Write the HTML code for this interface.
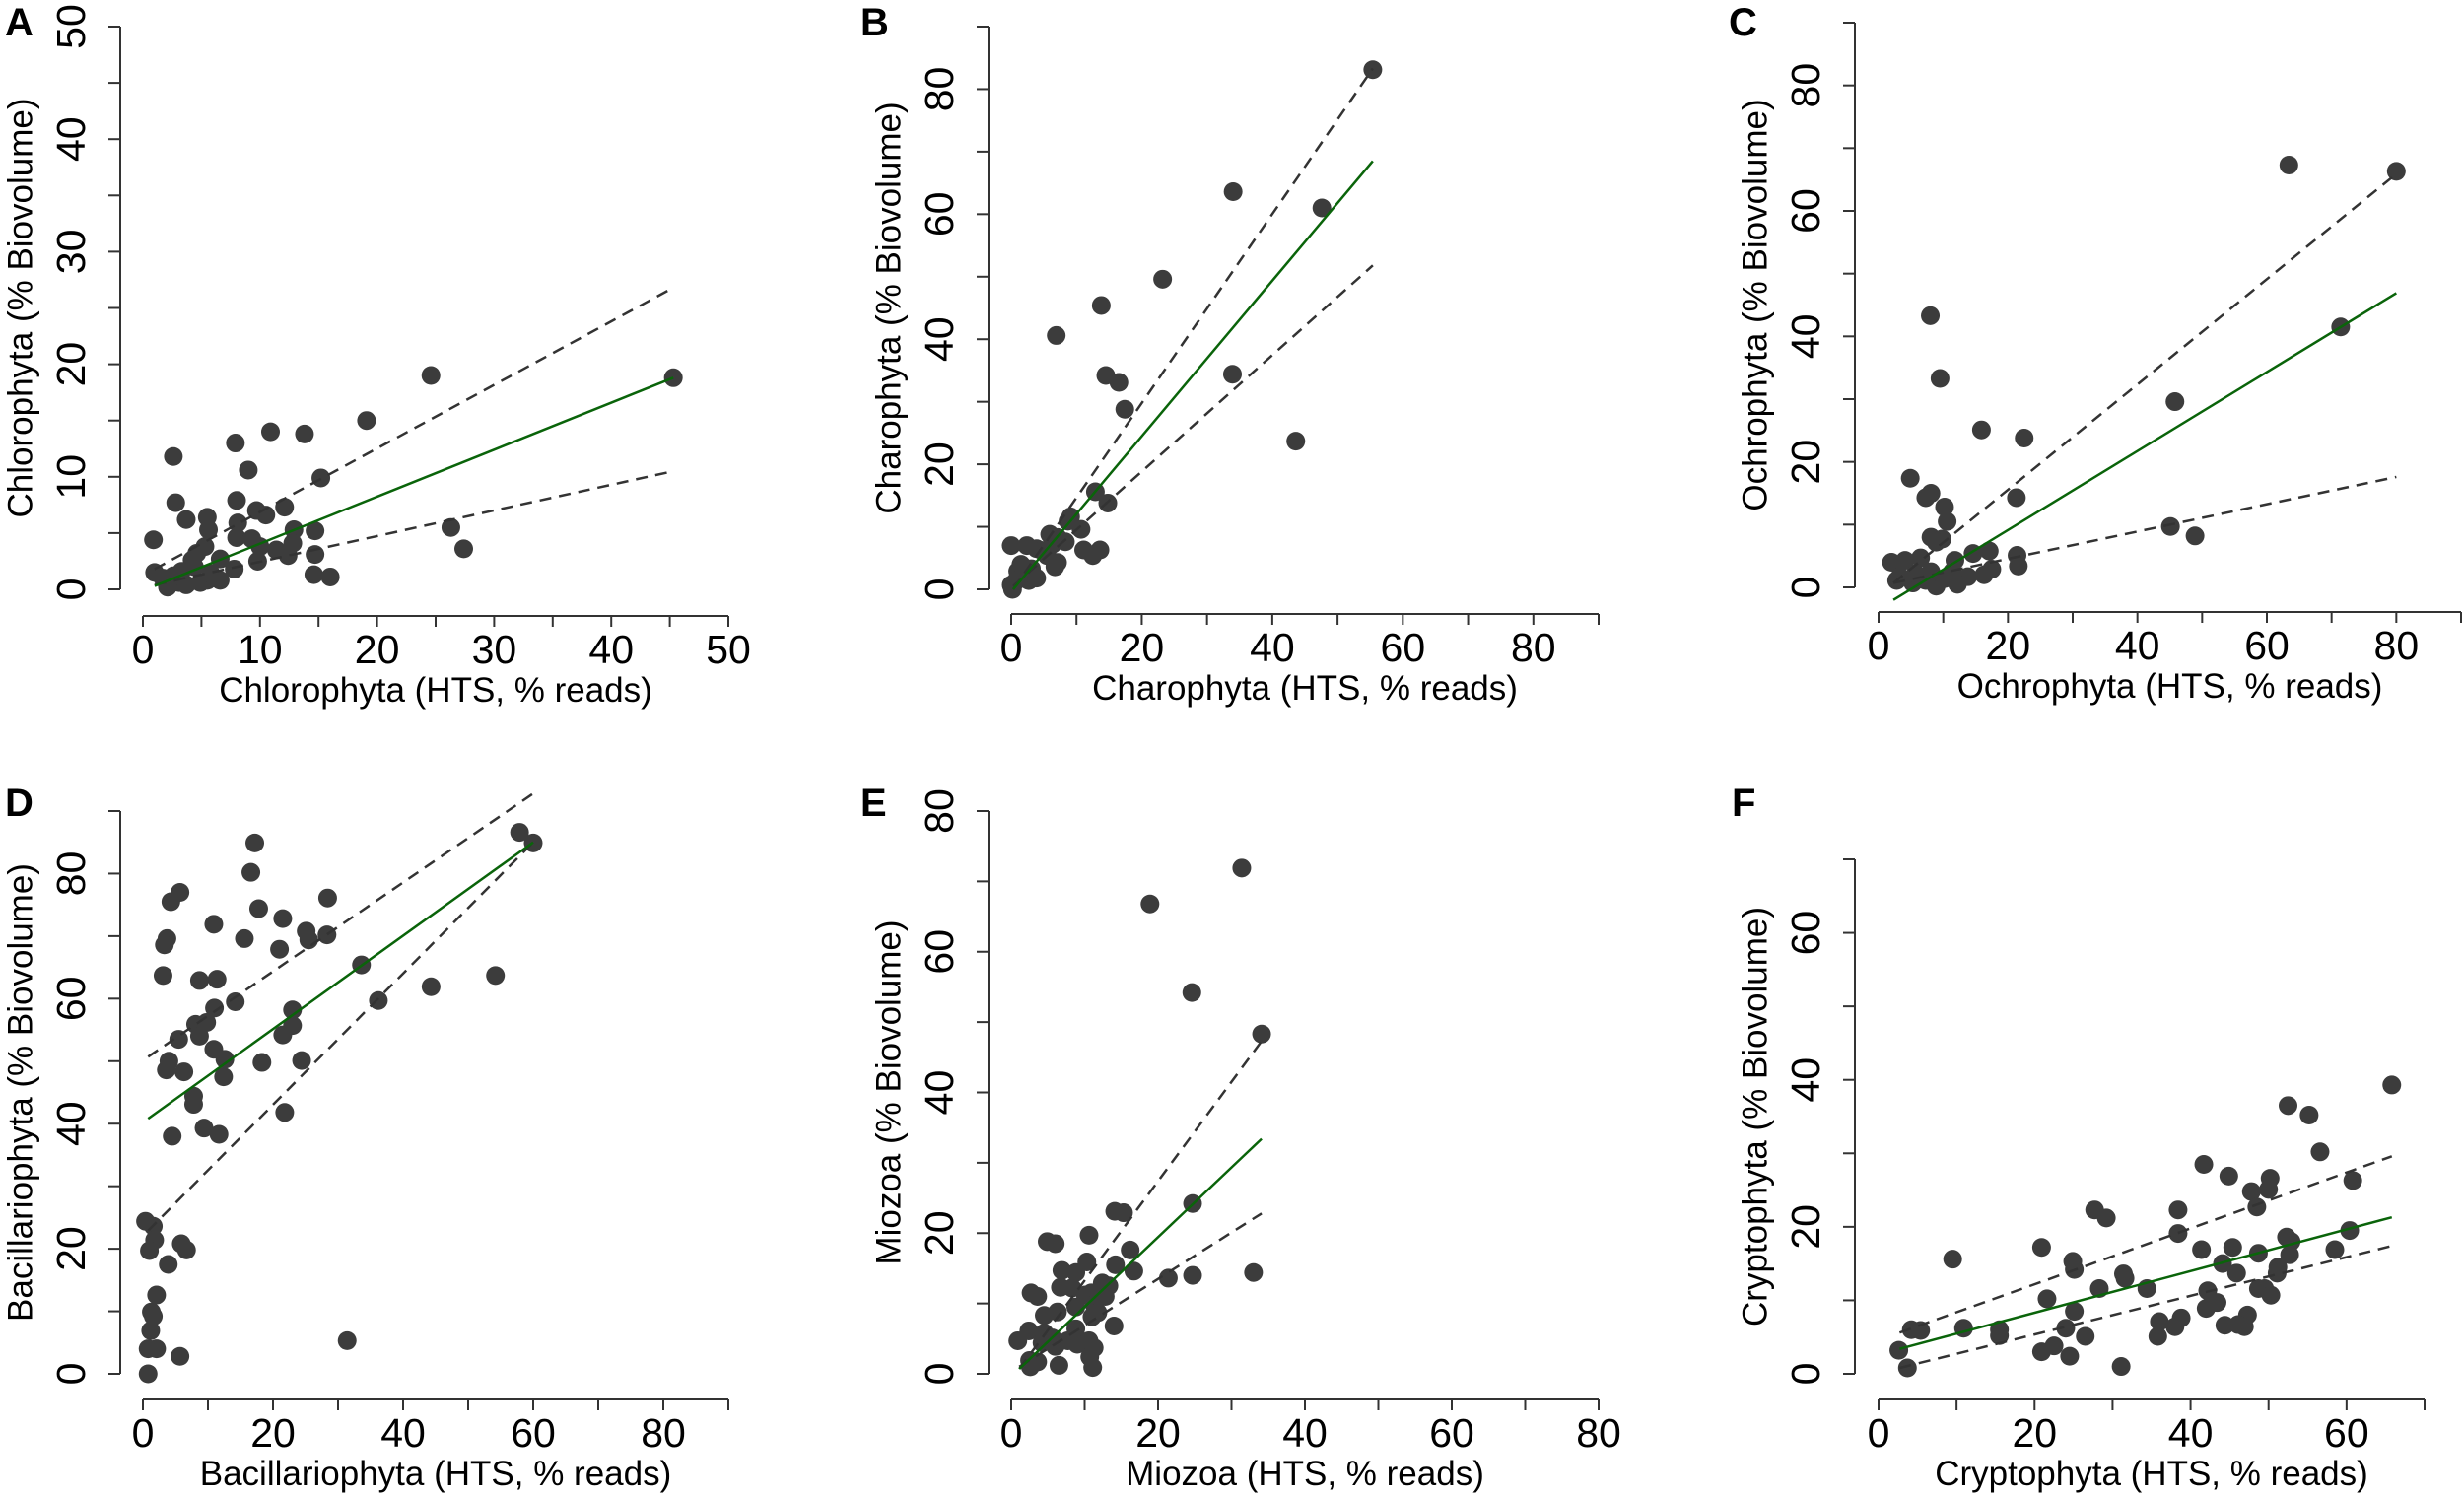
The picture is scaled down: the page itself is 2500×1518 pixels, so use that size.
<!DOCTYPE html>
<html><head><meta charset="utf-8"><style>
html,body{margin:0;padding:0;background:#fff;}
svg{display:block;font-family:"Liberation Sans",Arial,sans-serif;}
</style></head><body>
<svg id="fig" width="2500" height="1518" viewBox="0 0 2500 1518" xmlns="http://www.w3.org/2000/svg"></svg>
<script>
// Panel A: Chlorophyta
const aX=[0.9,1.0,2.6,2.8,3.7,5.5,5.6,7.9,9.0,10.9,13.8,19.1,24.6,45.3,15.2,12.1,9.7,10.5,8.0,8.1,8.0,9.3,10.0,9.8,11.4,12.4,12.9,12.8,14.7,14.7,14.6,16.0,26.3,27.4,7.8,6.6,6.6,5.3,4.6,4.2,4.4,5.5,4.9,3.7,3.1,2.6,2.1,1.7,3.3,5.8];
const aY=[4.4,1.5,11.8,7.7,6.2,6.4,5.3,13.0,10.6,14.0,13.8,15.0,19.0,18.8,9.9,7.3,7.0,6.6,7.9,5.9,4.6,4.5,3.8,2.5,3.5,3.0,5.3,4.1,5.2,3.1,1.3,1.1,5.5,3.6,1.8,2.7,0.8,3.8,3.2,2.6,2.0,0.8,0.6,0.4,0.6,1.2,0.2,1.0,1.6,1.4];
const aFitX=[1.0,45.3], aFitY=[0.3,18.8], aUpY=[1.8,26.8], aLoY=[0.4,10.5];
// Panel B: Charophyta
const bX=[55.4,34.0,47.6,23.2,13.8,6.9,14.5,16.5,17.4,33.9,43.6,12.9,14.8,9.1,10.7,0,2.4,3.9,5.9,7.1,8.3,11.1,12.5,13.6,7.1,6.7,4.7,5.5,1.5,1.0,2.7,3.9,0.2,0,0.8,1.9,3.1,6.3,8.7];
const bY=[83.1,63.6,61.0,49.6,45.4,40.6,34.2,33.1,28.8,34.4,23.7,15.6,13.8,11.6,9.6,7.0,7.0,6.5,8.8,8.3,7.6,6.3,5.4,6.3,4.3,3.6,6.2,5.4,4.0,2.9,1.4,1.8,0,0.7,1.4,2.5,3.3,7.2,10.9];
const bFitX=[0.3,55.4], bFitY=[0,68.5], bUpY=[0,83.3], bLoY=[0.5,51.8];
// Panel C: Ochrophyta
const cX=[63.4,80.0,71.4,8.0,9.5,15.9,22.5,45.8,4.9,7.3,8.1,10.2,10.6,21.3,8.1,9.8,8.9,45.1,48.9,2.0,4.1,6.5,11.8,14.6,17.1,21.4,21.6,17.5,16.3,13.8,12.2,8.9,7.3,5.3,3.3,2.8,5.7,8.1,10.2,11.4];
const cY=[67.3,66.3,41.5,43.3,33.3,25.1,23.8,29.6,17.4,14.3,15.0,12.8,10.5,14.3,8.0,7.7,7.2,9.7,8.2,4.0,4.3,4.7,4.3,5.4,5.8,5.1,3.4,2.9,2.0,1.7,0.5,0.2,1.1,0.7,1.7,1.1,2.2,2.5,1.4,2.5];
const cFitX=[2.3,80], cFitY=[-2.0,46.9], cUpY=[0.7,65.9], cLoY=[0.7,17.6];
// Panel D: Bacillariophyta
const dX=[57.9,60.0,17.2,16.6,4.3,5.7,28.4,17.8,10.9,21.5,3.7,3.3,15.6,21.0,25.1,25.5,28.3,3.1,8.7,11.4,33.6,54.2,44.3,36.2,14.2,11.0,9.8,8.1,8.7,5.5,23.0,23.0,21.5,10.9,12.6,4.0,3.6,6.3,12.4,18.3,24.4,7.8,7.8,21.8,9.4,4.5,11.7,0.4,1.6,1.8,1.0,5.9,6.7,3.9,2.1,1.3,1.6,1.2,0.8,2.1,5.7,0.8,31.4];
const dY=[86.6,84.9,84.9,80.2,75.5,77.0,76.1,74.4,71.9,72.8,69.6,68.6,69.6,67.9,70.8,69.4,70.2,63.7,62.9,63.1,65.4,63.7,61.9,59.7,59.5,58.5,56.2,55.9,54.0,53.5,58.2,55.7,54.2,51.9,50.3,50.0,48.6,48.3,47.5,49.8,50.1,44.4,43.1,41.8,39.3,38.0,38.3,24.4,23.6,21.4,19.7,20.8,19.8,17.5,12.6,9.9,9.2,6.9,4.0,4.0,2.8,0,5.3];
const dFitX=[0.8,60], dFitY=[40.8,85.0], dUpY=[50.7,92.8], dLoY=[22.9,85.0];
// Panel E: Miozoa
const eX=[31.4,18.9,24.6,34.1,24.7,14.1,15.3,4.9,6.0,10.6,16.2,10.3,14.2,16.7,6.9,8.8,21.4,24.7,33.0,6.7,8.3,12.4,13.3,10.1,10.9,2.7,3.6,12.8,8.8,11.3,6.3,4.5,11.0,11.8,14.0,2.4,0.9,4.5,5.6,8.8,9.0,6.0,4.2,10.6,11.3,10.7,7.7,2.5,3.6,2.6,6.5,11.1];
const eY=[71.9,66.8,54.2,48.3,24.2,23.1,22.9,18.8,18.5,19.7,17.6,15.9,15.5,14.6,14.7,14.4,13.6,14.0,14.4,12.3,12.2,12.9,12.5,11.2,11.5,11.5,11.0,11.0,9.5,9.8,8.8,8.3,8.1,8.7,6.8,6.1,4.7,5.8,5.1,6.4,4.2,3.9,4.4,4.7,3.7,2.4,4.7,1.9,1.7,1.0,1.2,0.9];
const eFitX=[1.1,34.1], eFitY=[0.7,33.4], eUpY=[0.7,47.3], eLoY=[1.0,22.8];
// Panel F: Cryptophyta
const fX=[65.8,52.5,55.2,56.6,41.7,44.9,50.2,60.8,50.0,47.8,48.5,27.7,29.2,38.4,38.4,60.4,52.3,52.9,52.7,48.7,45.4,41.4,58.5,20.9,9.5,24.9,25.1,44.1,51.2,51.1,45.9,31.4,31.6,34.4,28.3,42.2,48.7,49.5,50.3,21.6,43.4,42.0,25.1,47.3,36.0,38.8,38.0,44.4,46.1,46.9,4.2,5.4,10.9,15.5,15.5,24.0,26.5,35.8,20.9,22.5,24.5,2.6,3.7,31.1];
const fY=[39.3,36.5,35.2,30.2,28.5,26.9,26.6,26.3,25.1,24.8,22.7,22.3,21.2,22.3,19.1,19.5,18.6,18.0,16.2,16.4,17.2,16.9,16.9,17.2,15.6,15.3,14.2,15.0,14.5,13.7,13.7,13.6,13.0,11.6,11.6,11.3,11.6,11.6,10.7,10.2,9.7,8.9,8.5,8.0,7.1,7.6,6.4,6.6,6.7,6.4,6.0,5.9,6.2,6.0,5.2,6.2,5.1,5.1,3.0,3.8,2.4,3.2,0.8,1.0];
const fFitX=[2.7,65.8], fFitY=[3.4,21.3], fUpY=[5.6,29.6], fLoY=[0.8,17.4];

const NS="http://www.w3.org/2000/svg";
const svg=document.getElementById('fig');
function mk(tag,attrs,parent){const e=document.createElementNS(NS,tag);for(const k in attrs)e.setAttribute(k,attrs[k]);(parent||svg).appendChild(e);return e;}

function panel(p,xs,ys,fx,fy,uy,ly){
  const g=mk('g',{});
  
  
  const sx=v=>p.x0+(v-p.xmin)/(p.xmax-p.xmin)*(p.x1-p.x0);
  const sy=v=>p.y0-(v-p.ymin)/(p.ymax-p.ymin)*(p.y0-p.y1);
  const st={stroke:'#333','stroke-width':2,fill:'none'};
  const ya=mk('line',Object.assign({x1:p.ax,x2:p.ax,y1:p.y0,y2:p.y1},st),g);
  
  
  for(let v=p.ymin;v<=p.ymax+1e-9;v+=p.ystep){
    mk('line',Object.assign({x1:p.ax-12,x2:p.ax,y1:sy(v),y2:sy(v)},st),g);
    if(v%p.ylab===0){
      const t=mk('text',{x:p.ax-50,y:sy(v),'font-size':41,'text-anchor':'middle','dominant-baseline':'central',transform:`rotate(-90 ${p.ax-50} ${sy(v)})`,fill:'#000'},g);
      t.textContent=v;
      
      
    }
  }
  const xa=mk('line',Object.assign({x1:p.x0,x2:p.x1,y1:p.ay,y2:p.ay},st),g);
  
  
  for(let v=p.xmin;v<=p.xmax+1e-9;v+=p.xstep){
    mk('line',Object.assign({x1:sx(v),x2:sx(v),y1:p.ay,y2:p.ay+11},st),g);
    if(v%p.xlab===0){
      const t=mk('text',{x:sx(v),y:p.ay+48,'font-size':41,'text-anchor':'middle',fill:'#000'},g);
      t.textContent=v;
      
      
    }
  }
  const xt=mk('text',{x:(p.x0+p.x1)/2,y:p.ay+87,'font-size':35,'text-anchor':'middle',fill:'#000'},g);
  xt.textContent=p.xt;
  
  
  const cy=(p.y0+p.y1)/2, tx=p.ax-101;
  const yt=mk('text',{x:tx,y:cy,'font-size':35,'text-anchor':'middle','dominant-baseline':'central',transform:`rotate(-90 ${tx} ${cy})`,fill:'#000'},g);
  yt.textContent=p.yt;
  
  
  const L=mk('text',{x:p.lx,y:p.ly,'font-size':40,'font-weight':'bold',fill:'#000'},g);
  L.textContent=p.letter;
  
  
  for(let i=0;i<xs.length;i++){
    const c=mk('circle',{cx:sx(xs[i]),cy:sy(ys[i]),r:9.5,fill:'#3c3c3c'},g);
    
    
  }
  const u=mk('line',{x1:sx(fx[0]),y1:sy(uy[0]),x2:sx(fx[1]),y2:sy(uy[1]),stroke:'#333','stroke-width':2.5,'stroke-dasharray':'12 8'},g);
  
  
  const lo=mk('line',{x1:sx(fx[0]),y1:sy(ly[0]),x2:sx(fx[1]),y2:sy(ly[1]),stroke:'#333','stroke-width':2.5,'stroke-dasharray':'12 8'},g);
  
  
  const f=mk('line',{x1:sx(fx[0]),y1:sy(fy[0]),x2:sx(fx[1]),y2:sy(fy[1]),stroke:'#0a640a','stroke-width':2.5},g);
  
  
}

panel({letter:'A',lx:5,ly:36,ax:122,ay:625,x0:145,x1:739,xmin:0,xmax:50,xstep:5,xlab:10,y0:598,y1:27,ymin:0,ymax:50,ystep:5,ylab:10,xt:'Chlorophyta (HTS, % reads)',yt:'Chlorophyta (% Biovolume)'},aX,aY,aFitX,aFitY,aUpY,aLoY);
panel({letter:'B',lx:873,ly:36,ax:1003,ay:623,x0:1026,x1:1622,xmin:0,xmax:90,xstep:10,xlab:20,y0:598,y1:27,ymin:0,ymax:90,ystep:10,ylab:20,xt:'Charophyta (HTS, % reads)',yt:'Charophyta (% Biovolume)'},bX,bY,bFitX,bFitY,bUpY,bLoY);
panel({letter:'C',lx:1754,ly:36,ax:1882,ay:621,x0:1906,x1:2497,xmin:0,xmax:90,xstep:10,xlab:20,y0:596,y1:23,ymin:0,ymax:90,ystep:10,ylab:20,xt:'Ochrophyta (HTS, % reads)',yt:'Ochrophyta (% Biovolume)'},cX,cY,cFitX,cFitY,cUpY,cLoY);
panel({letter:'D',lx:5,ly:828,ax:122,ay:1420,x0:145,x1:739,xmin:0,xmax:90,xstep:10,xlab:20,y0:1394,y1:823,ymin:0,ymax:90,ystep:10,ylab:20,xt:'Bacillariophyta (HTS, % reads)',yt:'Bacillariophyta (% Biovolume)'},dX,dY,dFitX,dFitY,dUpY,dLoY);
panel({letter:'E',lx:873,ly:828,ax:1003,ay:1420,x0:1026,x1:1622,xmin:0,xmax:80,xstep:10,xlab:20,y0:1394,y1:823,ymin:0,ymax:80,ystep:10,ylab:20,xt:'Miozoa (HTS, % reads)',yt:'Miozoa (% Biovolume)'},eX,eY,eFitX,eFitY,eUpY,eLoY);
panel({letter:'F',lx:1757,ly:828,ax:1882,ay:1420,x0:1906,x1:2460,xmin:0,xmax:70,xstep:10,xlab:20,y0:1394,y1:872,ymin:0,ymax:70,ystep:10,ylab:20,xt:'Cryptophyta (HTS, % reads)',yt:'Cryptophyta (% Biovolume)'},fX,fY,fFitX,fFitY,fUpY,fLoY);
</script>
</body></html>
